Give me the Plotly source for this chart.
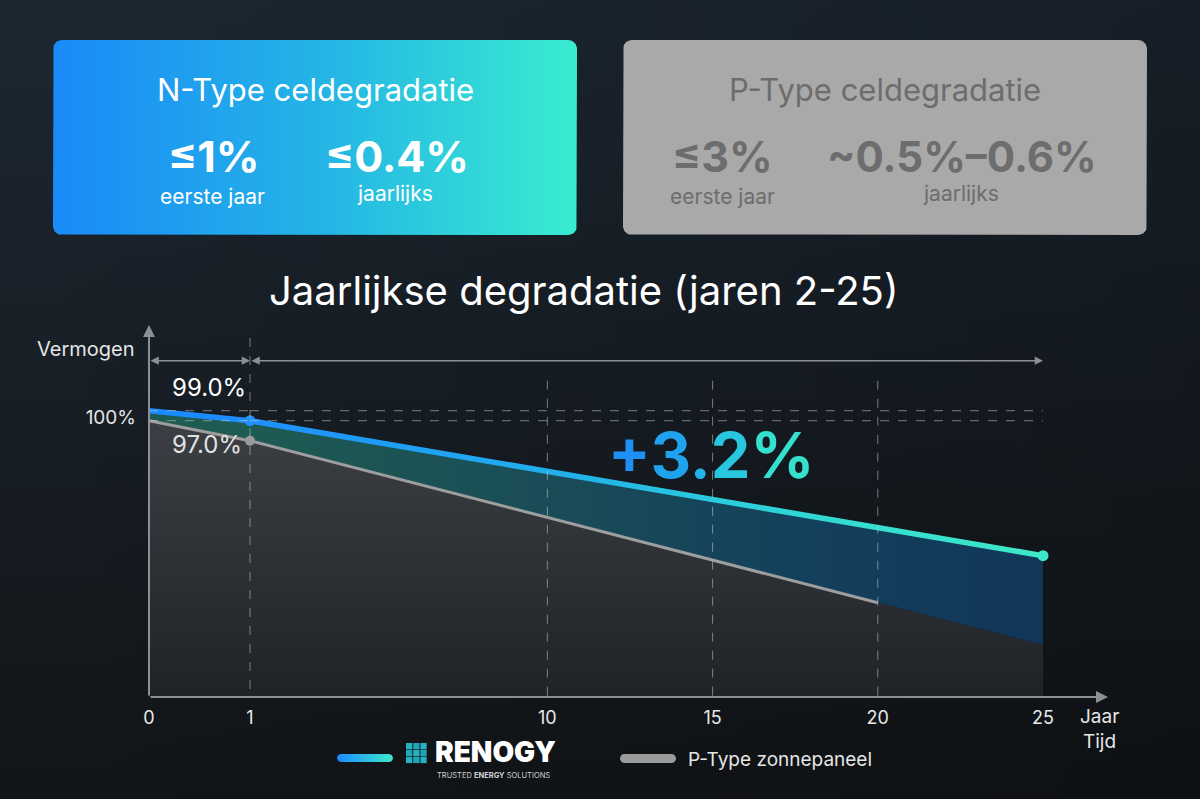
import numpy as np
import plotly.graph_objects as go

# ---------------- data ----------------
years_n = [0, 1, 25]
n_type_power = [100.0, 99.0, 85.5]
years_p = [0, 1, 20, 25]
p_type_power = [99.0, 97.0, 80.8, 76.6]
p_line_last_year = 20
x_ticks_first = [0]
x_ticks_rest = [1, 10, 15, 20, 25]
grid_years = [10, 15, 20]
ref_levels = [100, 99]
y_tick_vals = [100]
y_tick_text = ["100%"]
label_n_year1 = "99.0%"
label_p_year1 = "97.0%"
gain_chars = ["+", "3", ".", "2", "%"]
n_title = "N-Type celdegradatie"
n_values = ["≤1%", "≤0.4%"]
n_captions = ["eerste jaar", "jaarlijks"]
p_title = "P-Type celdegradatie"
p_values = ["≤3%", "~0.5%–0.6%"]
p_captions = ["eerste jaar", "jaarlijks"]
chart_title = "Jaarlijkse degradatie (jaren 2-25)"
y_axis_title = "Vermogen"
x_axis_title = ["Jaar", "Tijd"]
legend_p_text = "P-Type zonnepaneel"
brand = "RENOGY"
brand_tagline = "TRUSTED <b>ENERGY</b> SOLUTIONS"

# ---------------- layout constants ----------------
W, H = 1200, 799
PL, PR, PT, PB = 149, 1108, 325, 697      # chart plot area in pixels
BRK = 250                                  # broken x axis: year 0-1 expanded
PX_PER_YEAR_B = (1043 - BRK) / 24.0
XB_MAX = 1 + (PR - BRK) / PX_PER_YEAR_B
PX_PER_PCT = 10.0
YTOP_VAL = 100.0
YTOP_PX = 410.7
YMIN = YTOP_VAL - (PB - YTOP_PX) / PX_PER_PCT
YMAX = YTOP_VAL + (YTOP_PX - PT) / PX_PER_PCT
FONT = "Inter"
AXIS_GRAY = "#8c8f93"
DASH_COL = "rgba(200,205,210,0.55)"


def rrect(x0, y0, x1, y1, r, n=10):
    xs, ys = [], []
    corners = [(x1 - r, y0 + r, -90, 0), (x1 - r, y1 - r, 0, 90),
               (x0 + r, y1 - r, 90, 180), (x0 + r, y0 + r, 180, 270)]
    for cx, cy, a0, a1 in corners:
        for a in np.linspace(np.radians(a0), np.radians(a1), n):
            xs.append(cx + r * np.cos(a))
            ys.append(cy + r * np.sin(a))
    xs.append(xs[0])
    ys.append(ys[0])
    return xs, ys


def split(xs, ys, lo, hi):
    pts = [(x, y) for x, y in zip(xs, ys) if lo <= x <= hi]
    return [p[0] for p in pts], [p[1] for p in pts]


fig = go.Figure()
page = dict(xaxis="x", yaxis="y", hoverinfo="skip", showlegend=False)

# background
fig.add_trace(go.Scatter(x=[0, W, W, 0, 0], y=[0, 0, H, H, 0], fill="toself", mode="lines",
                         line=dict(width=0),
                         fillgradient=dict(type="vertical", start=0, stop=H,
                                           colorscale=[[0, "#1c2732"], [1, "#121518"]]), **page))
fig.add_trace(go.Scatter(x=[0, W, W, 0, 0], y=[0, 0, H, H, 0], fill="toself", mode="lines",
                         line=dict(width=0),
                         fillgradient=dict(type="horizontal", start=0, stop=W,
                                           colorscale=[[0, "rgba(0,0,0,0)"], [1, "rgba(0,0,0,0.22)"]]), **page))

# top boxes
bx, by = rrect(53, 40, 577, 235, 9)
fig.add_trace(go.Scatter(x=bx, y=by, fill="toself", mode="lines", line=dict(width=0),
                         fillgradient=dict(type="horizontal", start=53, stop=577,
                                           colorscale=[[0, "#1a8af8"], [0.5, "#24b3e6"], [1, "#39ecd0"]]),
                         **page))
bx, by = rrect(623, 40, 1147, 235, 9)
fig.add_trace(go.Scatter(x=bx, y=by, fill="toself", mode="lines", line=dict(width=0),
                         fillcolor="#a9a9a9", **page))

# legend bars
bx, by = rrect(337, 754, 393, 762, 4)
fig.add_trace(go.Scatter(x=bx, y=by, fill="toself", mode="lines", line=dict(width=0),
                         fillgradient=dict(type="horizontal", start=337, stop=393,
                                           colorscale=[[0, "#1a8cff"], [1, "#3de8c8"]]), **page))
bx, by = rrect(620, 754, 676, 763, 4.5)
fig.add_trace(go.Scatter(x=bx, y=by, fill="toself", mode="lines", line=dict(width=0),
                         fillcolor="#9b9b9b", **page))

# ---------------- chart (broken x axis: x2 = year 0-1, x3 = years 1-25) ----------------
segments = [("x2", 0, 1), ("x3", 1, max(years_n))]
for xa, lo, hi in segments:
    cl = dict(xaxis=xa, yaxis="y2", hoverinfo="skip", showlegend=False)
    px_, py_ = split(years_p, p_type_power, lo, hi)
    nx_, ny_ = split(years_n, n_type_power, lo, hi)
    # gray area under P-type
    fig.add_trace(go.Scatter(x=px_, y=py_, mode="lines", line=dict(width=0), fill="tozeroy",
                             fillgradient=dict(type="vertical", start=YMIN, stop=100,
                                               colorscale=[[0, "#1f2226"], [1, "#3d4146"]]), **cl))
    # gain band between N and P
    if xa == "x2":
        band = dict(fillcolor="#1e5b52")
    else:
        band = dict(fillgradient=dict(type="horizontal", start=lo, stop=hi,
                                      colorscale=[[0, "#1e5a52"], [0.35, "#1a4d57"],
                                                  [0.7, "#13405c"], [1, "#11365a"]]))
    fig.add_trace(go.Scatter(x=nx_, y=ny_, mode="lines", line=dict(width=0), fill="tonexty", **band, **cl))
    # P-type line (drawn up to year 20)
    lx, ly = split(px_, py_, lo, min(hi, p_line_last_year))
    fig.add_trace(go.Scatter(x=lx, y=ly, mode="lines", line=dict(color="#9e9e9e", width=3), **cl))
    # N-type line as a gradient band
    h = 0.28
    sx = nx_ + nx_[::-1]
    sy = [v + h for v in ny_] + [v - h for v in ny_[::-1]]
    if xa == "x2":
        col = dict(fillcolor="#1a8cff")
    else:
        col = dict(fillgradient=dict(type="horizontal", start=lo, stop=hi,
                                     colorscale=[[0, "#1e8ffd"], [0.4, "#22b0ea"], [0.6, "#2bcddc"],
                                                 [0.8, "#36dfcf"], [1, "#3de9c7"]]))
    fig.add_trace(go.Scatter(x=sx, y=sy, mode="lines", line=dict(width=0), fill="toself", **col, **cl))

i1n = years_n.index(1)
i1p = years_p.index(1)
cl3 = dict(xaxis="x3", yaxis="y2", hoverinfo="skip", showlegend=False, cliponaxis=False)
fig.add_trace(go.Scatter(x=[years_p[i1p]], y=[p_type_power[i1p]], mode="markers",
                         marker=dict(color="#9a9a9a", size=10), **cl3))
fig.add_trace(go.Scatter(x=[years_n[i1n]], y=[n_type_power[i1n]], mode="markers",
                         marker=dict(color="#1e90ff", size=11), **cl3))
fig.add_trace(go.Scatter(x=[years_n[-1]], y=[n_type_power[-1]], mode="markers",
                         marker=dict(color="#3de8c8", size=11), **cl3))

# ---------------- shapes ----------------
shapes = []
for lvl in ref_levels:
    shapes.append(dict(type="line", xref="x2", yref="y2", x0=0, x1=1, y0=lvl, y1=lvl,
                       line=dict(color=DASH_COL, width=1, dash="dash")))
    shapes.append(dict(type="line", xref="x3", yref="y2", x0=1, x1=max(years_n), y0=lvl, y1=lvl,
                       line=dict(color=DASH_COL, width=1, dash="dash")))
for g in grid_years:
    shapes.append(dict(type="line", xref="x3", yref="y2", x0=g, x1=g, y0=103.0, y1=YMIN,
                       line=dict(color=DASH_COL, width=1, dash="dash")))
# year-1 divider sits exactly on the axis break
shapes.append(dict(type="line", xref="x", yref="y", x0=BRK, x1=BRK, y0=338, y1=PB,
                   line=dict(color=DASH_COL, width=1, dash="dash")))
# logo icon grid
cell = 6.3
for r in range(3):
    for c in range(3):
        x0 = 406 + c * 7.2
        y0 = 743 + r * 6.9
        shapes.append(dict(type="rect", xref="x", yref="y", x0=x0, x1=x0 + cell, y0=y0, y1=y0 + cell,
                           fillcolor="#1fa6b8" if (r + c) % 2 else "#25b3c4", line=dict(width=0)))

# ---------------- annotations ----------------
ann = []


def txt(x, y, s, size, color="#ffffff", bold=False, xanchor="center", weight=None, **kw):
    s2 = f"<b>{s}</b>" if bold and weight is None else s
    f = dict(family=FONT, size=size, color=color)
    if weight is not None:
        f["weight"] = weight
    d = dict(x=x, y=y, xref="x", yref="y", text=s2, showarrow=False, xanchor=xanchor,
             yanchor="middle", font=f)
    d.update(kw)
    ann.append(d)


txt(315, 89, n_title, 31)
txt(213, 156, n_values[0], 43, bold=True)
txt(397, 156, n_values[1], 43, bold=True)
txt(212, 196, n_captions[0], 21)
txt(395, 193, n_captions[1], 21)
GC = "#6d6d6d"
txt(885, 89, p_title, 31, GC)
txt(722, 156, p_values[0], 43, GC, bold=True)
txt(962, 156, p_values[1], 42, GC, bold=True)
txt(722, 196, p_captions[0], 21, GC)
txt(961, 193, p_captions[1], 21, GC)
txt(584, 290, chart_title, 40)
txt(137, 349, y_axis_title, 20, "#e6e6e6", xanchor="right")
txt(1099, 716, x_axis_title[0], 19, "#e6e6e6")
txt(1099, 741, x_axis_title[1], 19, "#e6e6e6")
gain_cols = ["#1e8ff5", "#20a3ee", "#23b3e8", "#28c6df", "#35e0cd"]
gain_html = "".join(f"<span style='color:{c}'>{ch}</span>" for ch, c in zip(gain_chars, gain_cols))
txt(711, 455, gain_html, 63, bold=True)
txt(495, 752, brand, 28, weight=900)
txt(493, 775, brand_tagline, 7.5, "#cfd3d6")
txt(686, 759, legend_p_text, 19, "#e6e6e6", xanchor="left")

# year-1 value labels
ann.append(dict(x=1, y=n_type_power[i1n], xref="x2", yref="y2", text=label_n_year1, showarrow=False,
                xanchor="right", yanchor="middle", xshift=-2, yshift=33,
                font=dict(family=FONT, size=24, color="#ffffff")))
ann.append(dict(x=1, y=p_type_power[i1p], xref="x2", yref="y2", text=label_p_year1, showarrow=False,
                xanchor="right", yanchor="middle", xshift=-6, yshift=-4,
                font=dict(family=FONT, size=24, color="#e2e2e2")))

# axis arrows
arrow = dict(showarrow=True, text="", arrowhead=2, arrowcolor=AXIS_GRAY)
ann.append(dict(x=PL, y=PT, ax=PL, ay=PB, xref="x", yref="y", axref="x", ayref="y",
                arrowwidth=2, arrowsize=1.2, **arrow))
ann.append(dict(x=PR, y=PB, ax=PL, ay=PB, xref="x", yref="y", axref="x", ayref="y",
                arrowwidth=2, arrowsize=1.2, **arrow))
# dimension arrows (first year / following years)
dim_y = 105.0
ann.append(dict(x=1, y=dim_y, ax=0, ay=dim_y, xref="x2", yref="y2", axref="x2", ayref="y2",
                arrowwidth=1.5, arrowsize=1.1, arrowside="end+start", **arrow))
ann.append(dict(x=max(years_n), y=dim_y, ax=1, ay=dim_y, xref="x3", yref="y2", axref="x3", ayref="y2",
                arrowwidth=1.5, arrowsize=1.1, arrowside="end+start", **arrow))

tickfont = dict(family=FONT, size=18, color="#e8e8e8")
common_x = dict(showgrid=False, zeroline=False, showline=False, ticks="", tickfont=tickfont,
                fixedrange=True, anchor="y2", ticklabelstandoff=8, automargin=False)

fig.update_layout(
    width=W, height=H, margin=dict(l=0, r=0, t=0, b=0, pad=0, autoexpand=False),
    paper_bgcolor="#161c22", plot_bgcolor="rgba(0,0,0,0)",
    hovermode=False, showlegend=False,
    xaxis=dict(domain=[0, 1], range=[0, W], visible=False, fixedrange=True, automargin=False),
    yaxis=dict(domain=[0, 1], range=[H, 0], visible=False, fixedrange=True, automargin=False),
    xaxis2=dict(domain=[PL / W, BRK / W], range=[0, 1], tickvals=x_ticks_first,
                ticktext=[str(v) for v in x_ticks_first], **common_x),
    xaxis3=dict(domain=[BRK / W, PR / W], range=[1, XB_MAX], tickvals=x_ticks_rest,
                ticktext=[str(v) for v in x_ticks_rest], **common_x),
    yaxis2=dict(domain=[(H - PB) / H, (H - PT) / H], range=[YMIN, YMAX], anchor="x2",
                tickvals=y_tick_vals, ticktext=y_tick_text, showgrid=False, zeroline=False,
                showline=False, ticks="", ticklabelstandoff=12, ticklabelshift=7, automargin=False,
                tickfont=dict(family=FONT, size=19, color="#e6e6e6"), fixedrange=True),
    shapes=shapes, annotations=ann,
)

fig.write_html("out.html", config={"displayModeBar": False},
               post_script="document.body.style.margin='0px';document.body.style.overflow='hidden';"
                           "document.body.style.background='#161c22';")
